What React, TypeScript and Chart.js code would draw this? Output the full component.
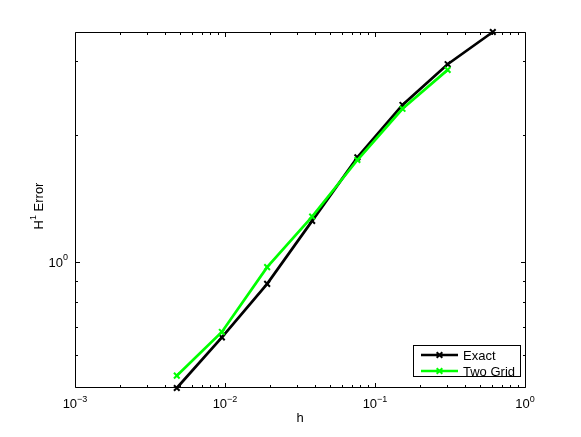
import React, { useEffect, useRef } from "react";
import { Chart, registerables } from "chart.js";

Chart.register(...registerables);

// ---- data ----
const hValues = [0.61, 0.305, 0.1525, 0.0763, 0.0381, 0.0191, 0.00953, 0.00477];
const exactErrors = [3.52, 2.95, 2.36, 1.77, 1.25, 0.885, 0.66, 0.5];
const twoGridH = [0.305, 0.1525, 0.0763, 0.0381, 0.0191, 0.00953, 0.00477];
const twoGridErrors = [2.86, 2.31, 1.745, 1.28, 0.97, 0.68, 0.535];
const seriesLabels = ["Exact", "Two Grid"];
const seriesColors = ["#000000", "#00ff00"];

// ---- axes ----
const xMin = 1e-3;
const xMax = 1;
const yMin = 0.5;
const yMax = 3.52;
const xMajorTicks = [1e-3, 1e-2, 1e-1, 1];
const xTickExponents = ["\u22123", "\u22122", "\u22121", "0"];
const xMinorTicks = [
  2e-3, 3e-3, 4e-3, 5e-3, 6e-3, 7e-3, 8e-3, 9e-3,
  2e-2, 3e-2, 4e-2, 5e-2, 6e-2, 7e-2, 8e-2, 9e-2,
  2e-1, 3e-1, 4e-1, 5e-1, 6e-1, 7e-1, 8e-1, 9e-1,
];
const yMajorTicks = [1];
const yTickExponents = ["0"];
const yMinorTicks = [0.6, 0.7, 0.8, 0.9, 2, 3];
const xTitle = "h";
const yTitleBase = "H";
const yTitleSup = "1";
const yTitleRest = " Error";

const FONT = '"Liberation Sans", Arial, Helvetica, sans-serif';

const axesPlugin = {
  id: "matlabAxes",
  afterDatasetsDraw(chart: any) {
    const ctx = chart.ctx as CanvasRenderingContext2D;
    const { left, right, top, bottom } = chart.chartArea;
    const xs = chart.scales.x;
    const ys = chart.scales.y;
    ctx.save();
    ctx.strokeStyle = "#000";
    ctx.fillStyle = "#000";
    ctx.lineWidth = 1;

    const L = Math.round(left) + 0.5;
    const R = Math.round(right) + 0.5;
    const T = Math.round(top) + 0.5;
    const B = Math.round(bottom) - 0.5;

    // frame
    ctx.beginPath();
    ctx.moveTo(L, T);
    ctx.lineTo(R, T);
    ctx.lineTo(R, B);
    ctx.lineTo(L, B);
    ctx.closePath();
    ctx.stroke();

    const major = 4.5;
    const minor = 2.5;
    ctx.beginPath();
    const xTick = (v: number, len: number) => {
      const px = Math.round(xs.getPixelForValue(v)) + 0.5;
      ctx.moveTo(px, B);
      ctx.lineTo(px, B - len);
      ctx.moveTo(px, T);
      ctx.lineTo(px, T + len);
    };
    const yTick = (v: number, len: number) => {
      const py = Math.round(ys.getPixelForValue(v)) + 0.5;
      ctx.moveTo(L, py);
      ctx.lineTo(L + len, py);
      ctx.moveTo(R, py);
      ctx.lineTo(R - len, py);
    };
    xMajorTicks.forEach((v) => xTick(v, major));
    xMinorTicks.forEach((v) => xTick(v, minor));
    yMajorTicks.forEach((v) => yTick(v, major));
    yMinorTicks.forEach((v) => yTick(v, minor));
    ctx.stroke();

    // tick labels
    const baseFont = `13px ${FONT}`;
    const supFont = `9px ${FONT}`;
    ctx.textBaseline = "alphabetic";
    ctx.textAlign = "left";
    const labelWidth = (sup: string) => {
      ctx.font = baseFont;
      const w1 = ctx.measureText("10").width;
      ctx.font = supFont;
      const w2 = ctx.measureText(sup).width;
      return [w1, w2];
    };
    xMajorTicks.forEach((v, i) => {
      const px = xs.getPixelForValue(v);
      const [w1, w2] = labelWidth(xTickExponents[i]);
      const x0 = px - (w1 + w2) / 2;
      const base = bottom + 20;
      ctx.font = baseFont;
      ctx.fillText("10", x0, base);
      ctx.font = supFont;
      ctx.fillText(xTickExponents[i], x0 + w1, base - 6);
    });
    yMajorTicks.forEach((v, i) => {
      const py = ys.getPixelForValue(v);
      const [w1, w2] = labelWidth(yTickExponents[i]);
      const x0 = left - 7 - (w1 + w2);
      const base = py + 5;
      ctx.font = baseFont;
      ctx.fillText("10", x0, base);
      ctx.font = supFont;
      ctx.fillText(yTickExponents[i], x0 + w1, base - 7);
    });

    // axis titles
    ctx.font = baseFont;
    ctx.textAlign = "center";
    ctx.fillText(xTitle, (left + right) / 2, bottom + 34);

    ctx.save();
    ctx.translate(43, 206);
    ctx.rotate(-Math.PI / 2);
    ctx.textAlign = "left";
    ctx.font = baseFont;
    const wa = ctx.measureText(yTitleBase).width;
    const wc = ctx.measureText(yTitleRest).width;
    ctx.font = supFont;
    const wb = ctx.measureText(yTitleSup).width;
    const start = -(wa + wb + wc) / 2;
    ctx.font = baseFont;
    ctx.fillText(yTitleBase, start, 0);
    ctx.font = supFont;
    ctx.fillText(yTitleSup, start + wa, -7);
    ctx.font = baseFont;
    ctx.fillText(yTitleRest, start + wa + wb, 0);
    ctx.restore();

    // legend
    const bx = 413.5;
    const by = 345.5;
    const bw = 107;
    const bh = 31;
    ctx.fillStyle = "#fff";
    ctx.fillRect(bx, by, bw, bh);
    ctx.strokeStyle = "#000";
    ctx.lineWidth = 1;
    ctx.strokeRect(bx, by, bw, bh);
    const rows = [355, 371];
    chart.data.datasets.forEach((ds: any, i: number) => {
      const y = rows[i];
      ctx.strokeStyle = ds.borderColor;
      ctx.lineWidth = 2.7;
      ctx.beginPath();
      ctx.moveTo(421, y);
      ctx.lineTo(458, y);
      ctx.stroke();
      // marker
      const r = 4;
      const d = r * Math.SQRT1_2;
      ctx.lineWidth = 2;
      ctx.beginPath();
      ctx.moveTo(439.5 - d, y - d);
      ctx.lineTo(439.5 + d, y + d);
      ctx.moveTo(439.5 - d, y + d);
      ctx.lineTo(439.5 + d, y - d);
      ctx.stroke();
      ctx.fillStyle = "#000";
      ctx.font = baseFont;
      ctx.textAlign = "left";
      ctx.fillText(ds.label, 463, y + 5);
    });

    ctx.restore();
  },
};

export default function App() {
  const canvasRef = useRef<HTMLCanvasElement | null>(null);

  useEffect(() => {
    const canvas = canvasRef.current;
    if (!canvas) return;
    const chart = new Chart(canvas, {
      type: "line",
      data: {
        datasets: [
          {
            label: seriesLabels[0],
            data: hValues.map((h, i) => ({ x: h, y: exactErrors[i] })),
            borderColor: seriesColors[0],
            backgroundColor: seriesColors[0],
            borderWidth: 2.7,
            pointStyle: "crossRot",
            pointRadius: 4,
            pointBorderWidth: 2,
            pointBorderColor: seriesColors[0],
            fill: false,
            tension: 0,
            clip: false as any,
            order: 2,
          },
          {
            label: seriesLabels[1],
            data: twoGridH.map((h, i) => ({ x: h, y: twoGridErrors[i] })),
            borderColor: seriesColors[1],
            backgroundColor: seriesColors[1],
            borderWidth: 2.7,
            pointStyle: "crossRot",
            pointRadius: 4,
            pointBorderWidth: 2,
            pointBorderColor: seriesColors[1],
            fill: false,
            tension: 0,
            clip: false as any,
            order: 1,
          },
        ],
      },
      options: {
        animation: false,
        responsive: false,
        devicePixelRatio: 1,
        layout: { padding: { left: 75, right: 56, top: 32, bottom: 49 } },
        plugins: {
          legend: { display: false },
          tooltip: { enabled: false },
        },
        scales: {
          x: { type: "logarithmic", min: xMin, max: xMax, display: false },
          y: { type: "logarithmic", min: yMin, max: yMax, display: false },
        },
      },
      plugins: [axesPlugin],
    });
    return () => chart.destroy();
  }, []);

  return (
    <div style={{ position: "fixed", left: 0, top: 0, width: 581, height: 437, background: "#fff" }}>
      <canvas ref={canvasRef} width={581} height={437} style={{ display: "block", width: 581, height: 437 }} />
    </div>
  );
}
